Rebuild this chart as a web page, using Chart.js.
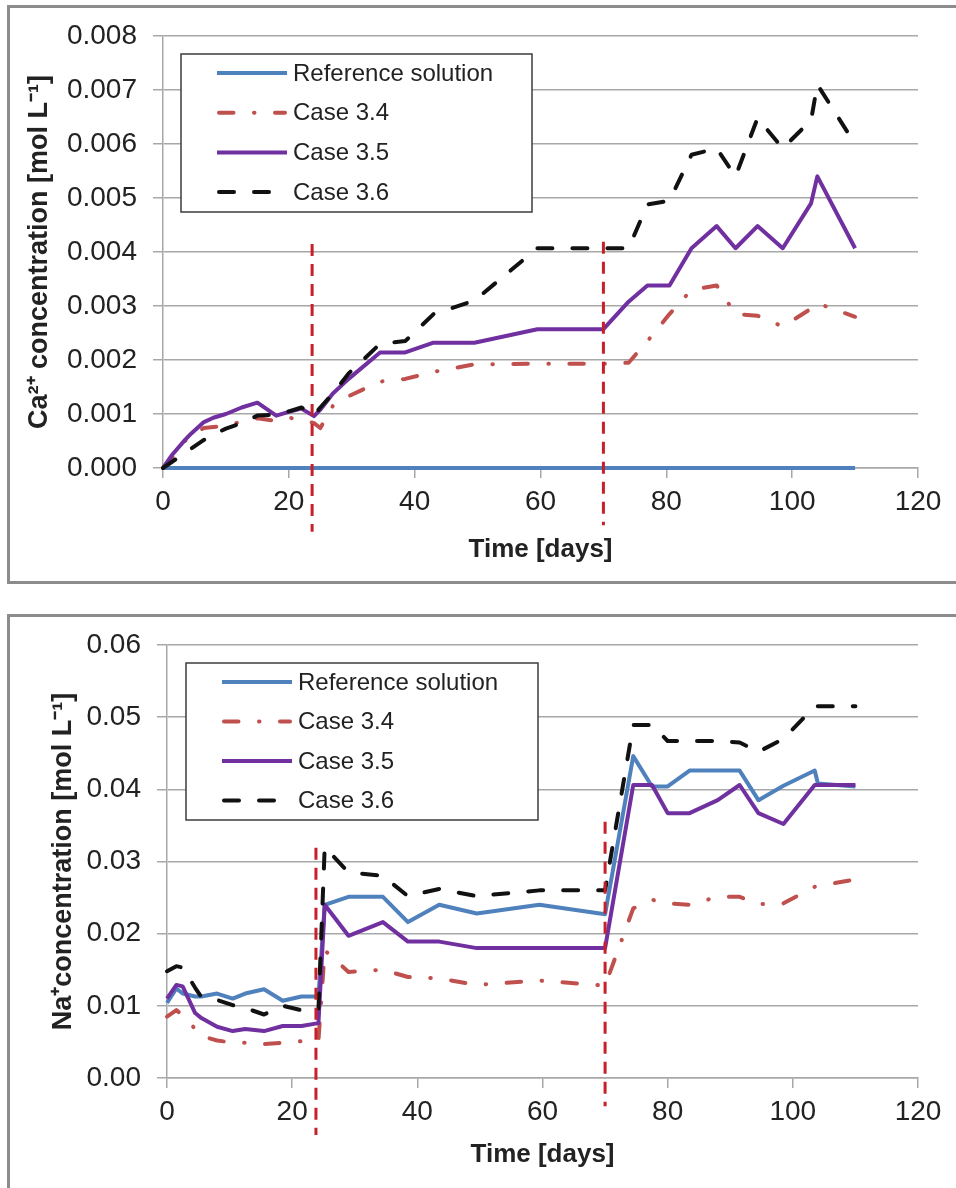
<!DOCTYPE html>
<html>
<head>
<meta charset="utf-8">
<title>Ca and Na concentration</title>
<script src="https://cdn.jsdelivr.net/npm/chart.js@4.4.1/dist/chart.umd.min.js"></script>
<style>
  body { margin: 0; background: #fff; width: 956px; height: 1188px; position: relative; overflow: hidden; }
  .frame { position: absolute; border: 3px solid #8c8c8c; box-sizing: border-box; }
  #frameCa { left: 7px; top: 5px; width: 960px; height: 579px; }
  #frameNa { left: 7px; top: 614px; width: 960px; height: 600px; }
  canvas { position: absolute; left: 0; }
  #caChart { top: 0; }
  #naChart { top: 598px; }
</style>
</head>
<body>
<div class="frame" id="frameCa"></div>
<div class="frame" id="frameNa"></div>
<canvas id="caChart" width="956" height="590"></canvas>
<canvas id="naChart" width="956" height="590"></canvas>
<script>
// Ca2+ concentration (mol/L) over time
const caDays = [0, 1.5, 3.5, 4.5, 6.5, 8, 10, 12.5, 15, 18, 20, 22, 24, 25, 27, 29.5, 34.5, 38.5, 43, 49.5,
                59.5, 70, 74, 77, 80.5, 84, 88, 91, 94.5, 98.5, 103, 104, 110];
const caRef = caDays.map(() => 0);
const caCase34 = [0, 0.0002, 0.0005, 0.00062, 0.00074, 0.00076, 0.00078, 0.00086, 0.00092, 0.00087,
                  0.00093, 0.0009, 0.00083, 0.00074, 0.00115, 0.00133, 0.0016, 0.00165, 0.00178, 0.00192,
                  0.00193, 0.00193, 0.00195, 0.00235, 0.00285, 0.0033, 0.00338, 0.00285, 0.00282, 0.00262,
                  0.00295, 0.00305, 0.0028];
const caCase35 = [0, 0.00025, 0.00052, 0.00064, 0.00085, 0.00093, 0.001, 0.00112, 0.00121, 0.00097,
                  0.00104, 0.0011, 0.00096, 0.00108, 0.00138, 0.00165, 0.00214, 0.00214, 0.00232, 0.00232,
                  0.00257, 0.00257, 0.00308, 0.00338, 0.00338, 0.00407, 0.00448, 0.00407, 0.00448, 0.00407,
                  0.0049, 0.0054, 0.00407];
const caCase36 = [0, 0.00012, 0.00028, 0.00036, 0.00052, 0.00062, 0.00073, 0.00083, 0.00097, 0.00099,
                  0.00105, 0.00112, 0.00098, 0.00112, 0.00138, 0.00175, 0.0023, 0.00235, 0.00285, 0.0031,
                  0.00407, 0.00407, 0.00407, 0.00488, 0.00495, 0.0058, 0.00592, 0.0054, 0.00648, 0.00592,
                  0.00644, 0.0071, 0.006];
const caTicks = [0, 0.001, 0.002, 0.003, 0.004, 0.005, 0.006, 0.007, 0.008];

// Na+ concentration (mol/L) over time
const naDays = [0, 1.5, 2.5, 4.5, 5.5, 8, 10.5, 12.5, 15.5, 18.5, 21.5, 24.2, 25.2, 29, 34.5, 38.5, 43.5,
                49.5, 59.5, 70, 74.5, 77.5, 80, 83.5, 88, 91.5, 94.5, 98.5, 103.5, 104, 110];
const naRef = [0.0104, 0.0124, 0.0117, 0.0113, 0.0113, 0.0117, 0.011, 0.0117, 0.0123, 0.0107,
               0.0113, 0.0113, 0.024, 0.0251, 0.0251, 0.0216, 0.024, 0.0228, 0.024, 0.0227,
               0.0446, 0.0404, 0.0404, 0.0426, 0.0426, 0.0426, 0.0385, 0.0405, 0.0426, 0.0408, 0.0404];
const naCase34 = [0.0085, 0.0094, 0.0087, 0.0068, 0.0058, 0.0052, 0.0049, 0.0049, 0.0047, 0.0049,
                  0.0051, 0.0052, 0.0177, 0.0147, 0.015, 0.014, 0.0138, 0.0129, 0.0135, 0.0128,
                  0.0235, 0.0247, 0.0242, 0.024, 0.0251, 0.0251, 0.0241, 0.0242, 0.0265, 0.0266, 0.0275];
const naCase35 = [0.011, 0.0129, 0.0127, 0.009, 0.0083, 0.0071, 0.0065, 0.0068, 0.0065, 0.0072,
                  0.0072, 0.0076, 0.024, 0.0197, 0.0216, 0.0189, 0.0189, 0.018, 0.018, 0.018,
                  0.0406, 0.0406, 0.0367, 0.0367, 0.0385, 0.0406, 0.0367, 0.0352, 0.0406, 0.0406, 0.0406];
const naCase36 = [0.0148, 0.0155, 0.0153, 0.0125, 0.0112, 0.0108, 0.0101, 0.0097, 0.0088, 0.01,
                  0.0094, 0.0095, 0.032, 0.0285, 0.028, 0.0252, 0.0262, 0.0252, 0.026, 0.026,
                  0.0489, 0.0489, 0.0467, 0.0467, 0.0467, 0.0465, 0.0452, 0.047, 0.0515, 0.0515, 0.0515];
const naTicks = [0, 0.01, 0.02, 0.03, 0.04, 0.05, 0.06];

const dayTicks = [0, 20, 40, 60, 80, 100, 120];

// feed changes, drawn as red dashed markers (day, top, bottom)
const caBreakDays = [23.7, 70];
const caBreakTop = [0.00415, 0.00419];
const caBreakBottom = [-0.00118, -0.00106];
const naBreakDays = [23.8, 70];
const naBreakTop = [0.0319, 0.0355];
const naBreakBottom = [-0.0079, -0.0039];

const seriesLabels = ['Reference solution', 'Case 3.4', 'Case 3.5', 'Case 3.6'];

const FONT = '"Liberation Sans", Arial, sans-serif';
Chart.defaults.font.family = FONT;
Chart.defaults.color = '#222';

const GRID = '#a8a8a8';

const styles = [
  { color: '#4f81bd', dash: [], cap: 'butt', order: 4 },
  { color: '#c0504d', dash: [14.5, 20.5, 0.5, 20.5], cap: 'round', order: 3 },
  { color: '#7030a0', dash: [], cap: 'butt', order: 2 },
  { color: '#111111', dash: [15, 20], cap: 'round', order: 1 }
];

function series(days, values, i) {
  const s = styles[i];
  return {
    label: seriesLabels[i],
    data: days.map((d, k) => ({ x: d, y: values[k] })),
    borderColor: s.color,
    borderWidth: 4,
    borderDash: s.dash,
    borderCapStyle: s.cap,
    borderJoinStyle: 'round',
    pointRadius: 0,
    tension: 0,
    fill: false,
    clip: false,
    order: s.order
  };
}

function breakLine(day, top, bottom) {
  return {
    isBreak: true,
    data: [{ x: day, y: top }, { x: day, y: bottom }],
    borderColor: '#c8202a',
    borderWidth: 3,
    borderDash: [12, 8],
    pointRadius: 0,
    clip: false,
    order: 0
  };
}

// framed legend inside the plot area
const boxLegend = {
  id: 'boxLegend',
  afterDraw(chart, args, o) {
    const ctx = chart.ctx;
    ctx.save();
    ctx.fillStyle = '#fff';
    ctx.fillRect(o.x, o.y, o.w, o.h);
    ctx.strokeStyle = '#3c3c3c';
    ctx.lineWidth = 1.5;
    ctx.strokeRect(o.x, o.y, o.w, o.h);
    chart.data.datasets.filter(ds => !ds.isBreak).forEach((ds, i) => {
      const y = o.y + o.first + i * o.step;
      const inset = ds.borderCapStyle === 'round' ? ds.borderWidth / 2 : 0;
      ctx.beginPath();
      ctx.setLineDash(ds.borderDash);
      ctx.lineCap = ds.borderCapStyle;
      ctx.strokeStyle = ds.borderColor;
      ctx.lineWidth = ds.borderWidth;
      ctx.moveTo(o.lineX + inset, y);
      ctx.lineTo(o.lineX + o.lineLen - inset, y);
      ctx.stroke();
      ctx.setLineDash([]);
      ctx.fillStyle = '#222';
      ctx.font = '24px ' + FONT;
      ctx.textBaseline = 'middle';
      ctx.textAlign = 'left';
      ctx.fillText(ds.label, o.textX, y + 1);
    });
    ctx.restore();
  }
};

function makeChart(id, cfg) {
  return new Chart(document.getElementById(id), {
    type: 'line',
    data: { datasets: cfg.datasets },
    options: {
      responsive: false,
      animation: false,
      layout: { padding: { top: cfg.top, right: 38, left: 0, bottom: 0 } },
      plugins: { legend: { display: false }, tooltip: { enabled: false }, boxLegend: cfg.legend },
      scales: {
        x: {
          type: 'linear',
          min: 0,
          max: 120,
          afterBuildTicks: s => { s.ticks = dayTicks.map(v => ({ value: v })); },
          ticks: { font: { size: 28 }, color: '#222', padding: 7, maxRotation: 0 },
          grid: { drawOnChartArea: false, drawTicks: true, tickLength: 10, color: GRID, lineWidth: 1.5 },
          border: { display: true, color: GRID, width: 1.5 },
          title: { display: true, text: 'Time [days]', color: '#222',
                   font: { size: 26, weight: 'bold' }, padding: { top: 0, bottom: cfg.xTitlePad } },
          afterFit: s => { s.height = cfg.xHeight; }
        },
        y: {
          type: 'linear',
          min: 0,
          max: cfg.yTicks[cfg.yTicks.length - 1],
          afterBuildTicks: s => { s.ticks = cfg.yTicks.map(v => ({ value: v })); },
          ticks: { font: { size: 28 }, color: '#222', padding: 16,
                   callback: v => v.toFixed(cfg.decimals) },
          grid: { color: GRID, lineWidth: 1.5, tickLength: 10 },
          border: { display: true, color: GRID, width: 1.5 },
          title: { display: true, text: cfg.yTitle, color: '#222',
                   font: { size: 27, weight: 'bold' }, padding: { top: cfg.yTitlePad, bottom: 0 } },
          afterFit: s => { s.width = cfg.yWidth; }
        }
      }
    },
    plugins: [boxLegend]
  });
}

makeChart('caChart', {
  datasets: [
    series(caDays, caRef, 0), series(caDays, caCase34, 1),
    series(caDays, caCase35, 2), series(caDays, caCase36, 3),
    ...caBreakDays.map((d, i) => breakLine(d, caBreakTop[i], caBreakBottom[i]))
  ],
  top: 36, yWidth: 163, xHeight: 122, xTitlePad: 25, yTitlePad: 23,
  yTicks: caTicks, decimals: 3,
  yTitle: 'Ca²⁺ concentration [mol L⁻¹]',
  legend: { x: 181, y: 54, w: 351, h: 158, first: 19, step: 39.7, lineX: 217, lineLen: 70, textX: 293 }
});

makeChart('naChart', {
  datasets: [
    series(naDays, naRef, 0), series(naDays, naCase34, 1),
    series(naDays, naCase35, 2), series(naDays, naCase36, 3),
    ...naBreakDays.map((d, i) => breakLine(d, naBreakTop[i], naBreakBottom[i]))
  ],
  top: 47, yWidth: 167, xHeight: 110, xTitlePad: 18, yTitlePad: 47,
  yTicks: naTicks, decimals: 2,
  yTitle: 'Na⁺concentration [mol L⁻¹]',
  legend: { x: 186, y: 65, w: 352, h: 157, first: 19, step: 39.5, lineX: 222, lineLen: 70, textX: 298 }
});
</script>
</body>
</html>
